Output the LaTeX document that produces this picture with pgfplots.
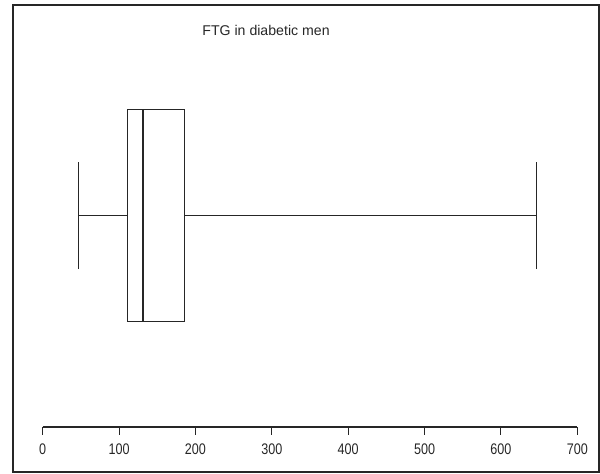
\documentclass[border=0pt]{standalone}
\usepackage{pgfplots}
\pgfplotsset{compat=1.18}
\usepgfplotslibrary{statistics}
\usepackage{fontspec}
\setmainfont{Liberation Sans}
\newfontfamily\ticknarrow[FakeStretch=0.82]{Liberation Sans}
\begin{document}
\begin{tikzpicture}
\useasboundingbox (0,0) rectangle (450pt,355.5pt);
% outer frame axis (pixel-like units for y)
\begin{axis}[
  at={(9.75pt,1.5pt)}, anchor=south west,
  scale only axis, width=439.5pt, height=350.25pt,
  xmin=-38.9, xmax=728.4, ymin=0, ymax=467,
  xtick=\empty, ytick=\empty,
  axis line style={line width=1.3pt, black!85},
  clip=false,
]
\addplot+[black!85, line width=0.6pt, mark=none,
  boxplot prepared={
    lower whisker=47, lower quartile=111, median=131,
    upper quartile=186, upper whisker=646,
    draw position=256.3, box extend=212, whisker extend=107,
    draw direction=x,
    every median/.style={line width=1.6pt},
  }] coordinates {};
\node[anchor=base, font=\fontsize{10.6}{12}\selectfont, black!85] at (axis cs:292.4,436) {FTG in diabetic men};
\end{axis}
% inner x axis
\begin{axis}[
  at={(32.0pt,35.25pt)}, anchor=south west,
  scale only axis, width=400.95pt, height=20pt,
  xmin=0, xmax=700, ymin=0, ymax=1,
  axis x line*=bottom, axis y line=none,
  xtick={0,100,...,700},
  tick align=outside, major tick length=6pt,
  axis line style={line width=0.8pt, black!85},
  tick style={line width=0.8pt, black!85},
  /pgf/number format/assume math mode=true,
  xticklabel style={font=\ticknarrow\fontsize{11.5}{13}\selectfont, black!85, yshift=-3pt},
]
\addplot[draw=none] coordinates {(0,0) (700,0)};
\end{axis}
\end{tikzpicture}
\end{document}
